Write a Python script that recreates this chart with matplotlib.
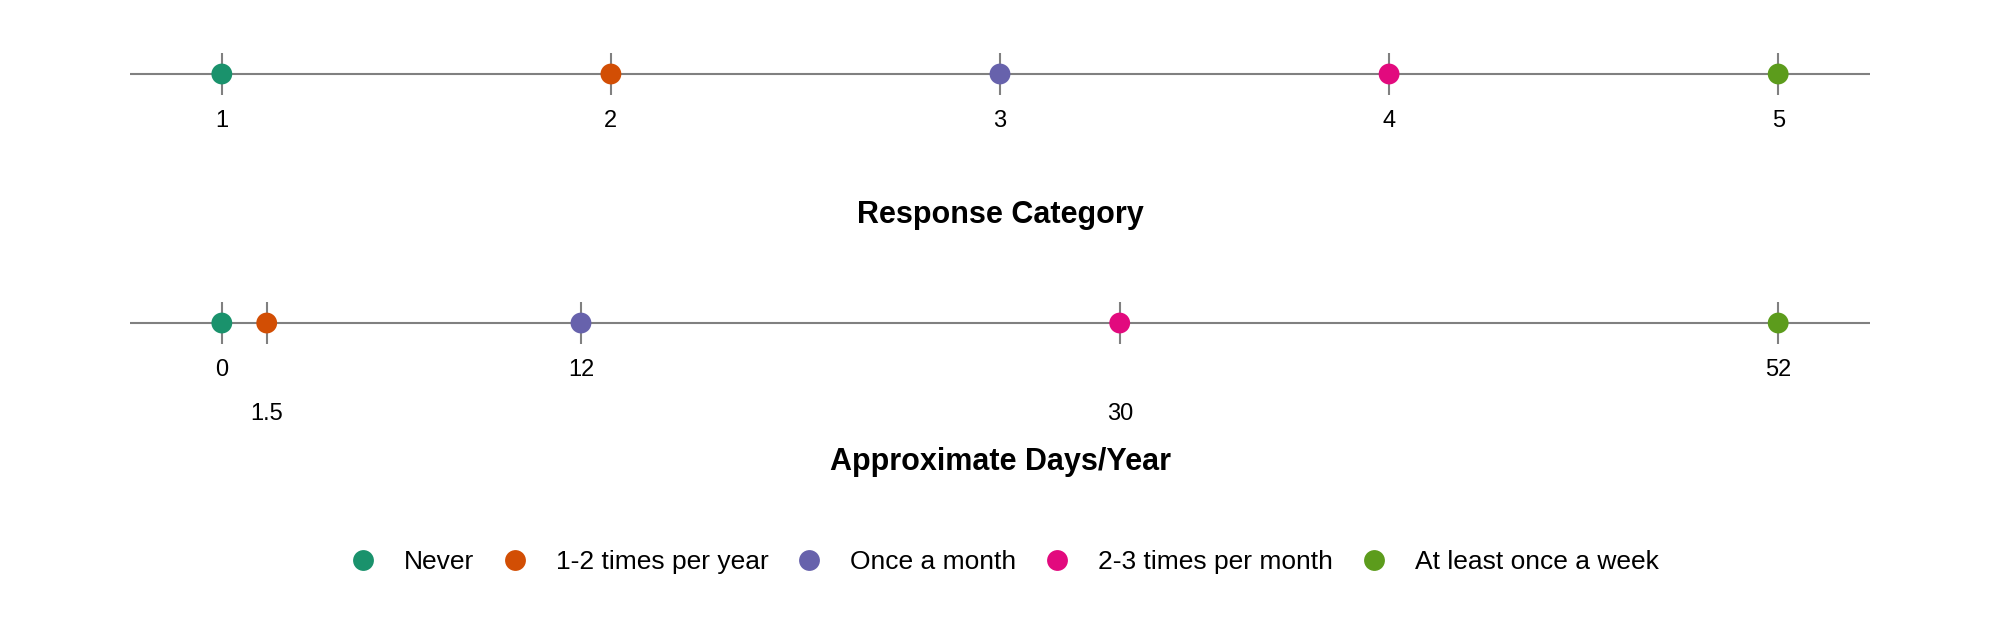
import matplotlib
matplotlib.use("Agg")
import matplotlib.pyplot as plt
from matplotlib.lines import Line2D

# data
labels = ["Never", "1-2 times per year", "Once a month",
          "2-3 times per month", "At least once a week"]
response_category = [1, 2, 3, 4, 5]
days_per_year = [0, 1.5, 12, 30, 52]
category_ticks = ["1", "2", "3", "4", "5"]
days_ticks = ["0", "1.5", "12", "30", "52"]
colors = ["#1A926C", "#D24E04", "#6762AC", "#E20A7E", "#5C9C1C"]

LINE_COLOR = "#808080"
plt.rcParams["font.family"] = ["Liberation Sans", "DejaVu Sans"]

fig = plt.figure(figsize=(20, 6.4), dpi=100)


def draw_axis(ax, values, ticks, stagger=False):
    pad = 0.059 * (max(values) - min(values))
    ax.set_xlim(min(values) - pad, max(values) + pad)
    ax.set_ylim(-1, 1)
    ax.axis("off")
    ax.axhline(0, color=LINE_COLOR, lw=1.5, zorder=1)
    ax.vlines(values, -0.7, 0.7, color=LINE_COLOR, lw=1.5, zorder=1)
    ax.scatter(values, [0] * len(values), s=225, c=colors, linewidths=0, zorder=3)
    for i, (v, t) in enumerate(zip(values, ticks)):
        off = -38.2
        if stagger and i % 2 == 1:
            off = -69.8
        ax.annotate(t, xy=(v, 0), xytext=(0, off), textcoords="offset points",
                    ha="center", va="baseline", fontsize=17, color="black")


# top: response category
ax1 = fig.add_axes([0.065, 0.8375, 0.87, 0.09375])
draw_axis(ax1, response_category, category_ticks)
fig.text(0.5, 1 - 223 / 640, "Response Category", ha="center", va="baseline",
         fontsize=22, fontweight="bold")

# bottom: approximate days per year
ax2 = fig.add_axes([0.065, 0.4484, 0.87, 0.09375])
draw_axis(ax2, days_per_year, days_ticks, stagger=True)
fig.text(0.5, 1 - 470 / 640, "Approximate Days/Year", ha="center", va="baseline",
         fontsize=22, fontweight="bold")

handles = [Line2D([], [], ls="none", marker="o", markersize=15,
                  markerfacecolor=c, markeredgewidth=0) for c in colors]
fig.legend(handles, labels, loc="center", bbox_to_anchor=(0.502, 1 - 562 / 640),
           ncol=5, frameon=False, fontsize=19, handlelength=1.0,
           handletextpad=1.05, columnspacing=1.05)

fig.savefig("out.png", dpi=100, facecolor="white")
